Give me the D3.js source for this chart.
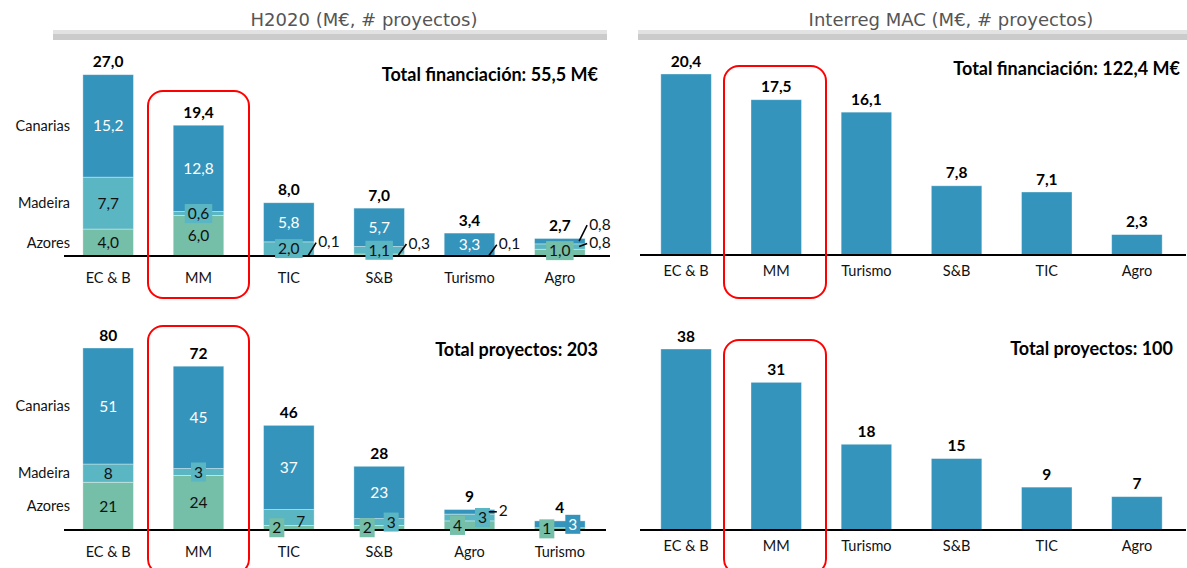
<!DOCTYPE html>
<html>
<head>
<meta charset="utf-8">
<script src="https://cdn.jsdelivr.net/npm/d3@7"></script>
<style>
  html, body { margin: 0; padding: 0; background: #ffffff; }
  svg { display: block; }
  text { font-family: Lato, "Open Sans", "Liberation Sans", sans-serif; }
</style>
</head>
<body>
<svg id="chart" width="1187" height="568"></svg>
<script>
// ---------------- DATA ----------------
const regions = ["Azores", "Madeira", "Canarias"];

// H2020 – financiación (M€)
const h2020FundCats = ["EC & B", "MM", "TIC", "S&B", "Turismo", "Agro"];
const h2020FundAzores = [4.0, 6.0, 0.1, 0.3, 0.1, 1.0];
const h2020FundMadeira = [7.7, 0.6, 2.0, 1.1, 0, 0.8];
const h2020FundCanarias = [15.2, 12.8, 5.8, 5.7, 3.3, 0.8];
const h2020FundTotals = [27.0, 19.4, 8.0, 7.0, 3.4, 2.7];
const h2020FundTotalText = "Total financiación: 55,5 M€";

// H2020 – nº proyectos
const h2020ProjCats = ["EC & B", "MM", "TIC", "S&B", "Agro", "Turismo"];
const h2020ProjAzores = [21, 24, 2, 2, 4, 1];
const h2020ProjMadeira = [8, 3, 7, 3, 3, 0];
const h2020ProjCanarias = [51, 45, 37, 23, 2, 3];
const h2020ProjTotals = [80, 72, 46, 28, 9, 4];
const h2020ProjTotalText = "Total proyectos: 203";

// Interreg MAC
const macFundCats = ["EC & B", "MM", "Turismo", "S&B", "TIC", "Agro"];
const macFundValues = [20.4, 17.5, 16.1, 7.8, 7.1, 2.3];
const macFundTotalText = "Total financiación: 122,4 M€";
const macProjCats = ["EC & B", "MM", "Turismo", "S&B", "TIC", "Agro"];
const macProjValues = [38, 31, 18, 15, 9, 7];
const macProjTotalText = "Total proyectos: 100";

const titles = ["H2020 (M€, # proyectos)", "Interreg MAC (M€, # proyectos)"];

// ---------------- LAYOUT / STYLE ----------------
const colors = { Azores: "#75bea7", Madeira: "#5ab6c2", Canarias: "#3594bb" };
const textColors = { Azores: "#111", Madeira: "#111", Canarias: "#ffffff" };

// label placement per segment [Azores, Madeira, Canarias]
const fundLabelModes = [
  [{t: "in"}, {t: "in"}, {t: "in"}],
  [{t: "in"}, {t: "box"}, {t: "in"}],
  [{t: "lead", dy: -13}, {t: "box"}, {t: "in"}],
  [{t: "lead", dy: -11}, {t: "box"}, {t: "in"}],
  [{t: "lead", dy: -11}, null, {t: "in"}],
  [{t: "box", dy: -2}, {t: "lead", dy: -3}, {t: "lead", dy: -16}]
];
const projLabelModes = [
  [{t: "in"}, {t: "in"}, {t: "in"}],
  [{t: "in"}, {t: "box"}, {t: "in"}],
  [{t: "box", dx: -12}, {t: "in", dx: 12, dy: 4}, {t: "in"}],
  [{t: "box", dx: -12}, {t: "box", dx: 12}, {t: "in"}],
  [{t: "box", dx: -12}, {t: "box", dx: 13}, {t: "lead", dy: 0}],
  [{t: "box", dx: -13}, null, {t: "box", dx: 13}]
];

const svg = d3.select("#chart");
const fmt1 = v => d3.format(".1f")(v).replace(".", ",");
const fmt0 = v => d3.format("d")(v);

// ---------------- TITLES ----------------
function drawHeader(x0, x1, cx, label) {
  const g = svg.append("g");
  g.append("rect").attr("x", x0).attr("y", 30).attr("width", x1 - x0).attr("height", 4).attr("fill", "#e2e2e2");
  g.append("rect").attr("x", x0).attr("y", 34).attr("width", x1 - x0).attr("height", 6).attr("fill", "#cbcbcb");
  g.append("text").attr("x", cx).attr("y", 20).attr("dy", "0.35em")
    .attr("text-anchor", "middle")
    .style("font-family", "'DejaVu Sans', Verdana, sans-serif")
    .style("font-size", "18px").attr("fill", "#555555")
    .text(label);
}
drawHeader(53, 607, 364, titles[0]);
drawHeader(638, 1187, 951, titles[1]);

// ---------------- STACKED PANEL ----------------
function stackedPanel(opt) {
  const rows = opt.cats.map((c, i) => ({
    cat: c, Azores: opt.az[i], Madeira: opt.ma[i], Canarias: opt.ca[i], total: opt.totals[i]
  }));
  const x = d3.scaleBand().domain(opt.cats).range(opt.xRange).paddingInner(0.44).paddingOuter(0.22);
  const y = d3.scaleLinear().domain([0, opt.max]).range([opt.base, opt.top]);
  const series = d3.stack().keys(regions)(rows);
  const g = svg.append("g");
  const bw = x.bandwidth();

  // bars
  series.forEach(s => {
    g.append("g").selectAll("rect").data(s.filter(d => d[1] - d[0] > 0)).join("rect")
      .attr("x", d => x(d.data.cat))
      .attr("y", d => y(d[1]))
      .attr("width", bw)
      .attr("height", d => y(d[0]) - y(d[1]))
      .attr("fill", colors[s.key])
      .attr("stroke", "rgba(255,255,255,0.45)").attr("stroke-width", 0.8);
  });

  // axis baseline
  const axis = d3.axisBottom(x).tickSize(0).tickPadding(opt.tickPad);
  const ag = g.append("g").attr("transform", `translate(0,${opt.base})`).call(axis);
  ag.select(".domain").remove();
  ag.selectAll("text").style("font-size", "14.5px").attr("fill", "#111")
    .style("font-family", "Lato, 'Open Sans', sans-serif");
  g.append("line").attr("x1", opt.lineX[0]).attr("x2", opt.lineX[1])
    .attr("y1", opt.base).attr("y2", opt.base).attr("stroke", "#000").attr("stroke-width", 2);

  // segment labels
  const lg = g.append("g");
  series.forEach((s, k) => {
    s.forEach((d, i) => {
      const v = d[1] - d[0];
      const mode = opt.modes[i][k];
      if (!(v > 0) || !mode) return;
      const mid = (y(d[0]) + y(d[1])) / 2;
      const cx = x(d.data.cat) + bw / 2;
      const right = x(d.data.cat) + bw;
      const label = opt.fmt(v);
      if (mode.t === "in") {
        lg.append("text").attr("x", cx + (mode.dx || 0)).attr("y", mid + (mode.dy || 0))
          .attr("dy", "0.36em").attr("text-anchor", "middle")
          .style("font-size", "15.5px").attr("fill", textColors[s.key]).text(label);
      } else if (mode.t === "box") {
        const bx = cx + (mode.dx || 0), by = mid + (mode.dy || 0);
        const bg = lg.append("g");
        const r = bg.append("rect").attr("fill", colors[s.key]);
        const t = bg.append("text").attr("x", bx).attr("y", by).attr("dy", "0.36em")
          .attr("text-anchor", "middle").style("font-size", "15.5px")
          .attr("fill", textColors[s.key]).text(label);
        const bb = t.node().getBBox();
        r.attr("x", bb.x - 3).attr("y", by - 9.5).attr("width", bb.width + 6).attr("height", 19);
      } else if (mode.t === "lead") {
        const ey = mid + mode.dy;
        lg.append("line").attr("x1", right - 6).attr("y1", mid).attr("x2", right + 2).attr("y2", ey)
          .attr("stroke", "#000").attr("stroke-width", 1.6);
        lg.append("text").attr("x", right + 4).attr("y", ey - 1).attr("dy", "0.36em")
          .style("font-size", "15.5px").attr("fill", "#111").text(label);
      }
    });
  });

  // totals
  g.append("g").selectAll("text").data(series[series.length - 1]).join("text")
    .attr("x", d => x(d.data.cat) + bw / 2)
    .attr("y", d => y(d[1]) - 13).attr("dy", "0.36em")
    .attr("text-anchor", "middle").style("font-size", "15.5px").style("font-weight", "bold")
    .attr("fill", "#000")
    .text(d => opt.fmt(d.data.total));

  // side labels (at EC & B segment centres)
  series.forEach(s => {
    const d = s[0];
    g.append("text").attr("x", 70).attr("y", (y(d[0]) + y(d[1])) / 2).attr("dy", "0.36em")
      .attr("text-anchor", "end").style("font-size", "14.5px").attr("fill", "#111").text(s.key);
  });

  // total text
  g.append("text").attr("x", opt.totalPos[0]).attr("y", opt.totalPos[1]).attr("dy", "0.36em")
    .attr("text-anchor", "end").style("font-size", "18px").style("font-weight", "bold")
    .attr("fill", "#000").text(opt.totalText);
}

// ---------------- SIMPLE PANEL ----------------
function simplePanel(opt) {
  const x = d3.scaleBand().domain(opt.cats).range(opt.xRange).paddingInner(0.44).paddingOuter(0.22);
  const y = d3.scaleLinear().domain([0, opt.max]).range([opt.base, opt.top]);
  const g = svg.append("g");
  const bw = x.bandwidth();
  const data = opt.cats.map((c, i) => ({ cat: c, v: opt.values[i] }));
  g.append("g").selectAll("rect").data(data).join("rect")
    .attr("x", d => x(d.cat)).attr("y", d => y(d.v))
    .attr("width", bw).attr("height", d => opt.base - y(d.v))
    .attr("fill", colors.Canarias)
    .attr("stroke", "rgba(255,255,255,0.45)").attr("stroke-width", 0.8);
  const axis = d3.axisBottom(x).tickSize(0).tickPadding(opt.tickPad);
  const ag = g.append("g").attr("transform", `translate(0,${opt.base})`).call(axis);
  ag.select(".domain").remove();
  ag.selectAll("text").style("font-size", "14.5px").attr("fill", "#111")
    .style("font-family", "Lato, 'Open Sans', sans-serif");
  g.append("line").attr("x1", opt.lineX[0]).attr("x2", opt.lineX[1])
    .attr("y1", opt.base).attr("y2", opt.base).attr("stroke", "#000").attr("stroke-width", 2);
  g.append("g").selectAll("text").data(data).join("text")
    .attr("x", d => x(d.cat) + bw / 2).attr("y", d => y(d.v) - 13).attr("dy", "0.36em")
    .attr("text-anchor", "middle").style("font-size", "15.5px").style("font-weight", "bold")
    .attr("fill", "#000").text(d => opt.fmt(d.v));
  g.append("text").attr("x", opt.totalPos[0]).attr("y", opt.totalPos[1]).attr("dy", "0.36em")
    .attr("text-anchor", "end").style("font-size", "18px").style("font-weight", "bold")
    .attr("fill", "#000").text(opt.totalText);
}

stackedPanel({
  cats: h2020FundCats, az: h2020FundAzores, ma: h2020FundMadeira, ca: h2020FundCanarias,
  totals: h2020FundTotals, fmt: fmt1, modes: fundLabelModes,
  xRange: [63, 605], lineX: [64, 610], base: 256, top: 74, max: 27.0, tickPad: 17,
  totalText: h2020FundTotalText, totalPos: [598, 75]
});
stackedPanel({
  cats: h2020ProjCats, az: h2020ProjAzores, ma: h2020ProjMadeira, ca: h2020ProjCanarias,
  totals: h2020ProjTotals, fmt: fmt0, modes: projLabelModes,
  xRange: [63, 605], lineX: [64, 606], base: 530, top: 348, max: 80, tickPad: 17,
  totalText: h2020ProjTotalText, totalPos: [598, 350]
});
simplePanel({
  cats: macFundCats, values: macFundValues, fmt: fmt1,
  xRange: [641, 1182], lineX: [640, 1186], base: 255, top: 74, max: 20.4, tickPad: 11,
  totalText: macFundTotalText, totalPos: [1180, 69]
});
simplePanel({
  cats: macProjCats, values: macProjValues, fmt: fmt0,
  xRange: [641, 1182], lineX: [640, 1186], base: 530, top: 349, max: 38, tickPad: 11,
  totalText: macProjTotalText, totalPos: [1173, 349]
});

// ---------------- HIGHLIGHT BOXES (MM) ----------------
const hl = [
  [148, 91, 101, 207], [148, 326, 101, 248],
  [724, 66, 102, 232], [724, 340, 102, 234]
];
svg.append("g").selectAll("rect").data(hl).join("rect")
  .attr("x", d => d[0]).attr("y", d => d[1]).attr("width", d => d[2]).attr("height", d => d[3])
  .attr("rx", 15).attr("ry", 15)
  .attr("fill", "none").attr("stroke", "#ff0000").attr("stroke-width", 2);
</script>
</body>
</html>
